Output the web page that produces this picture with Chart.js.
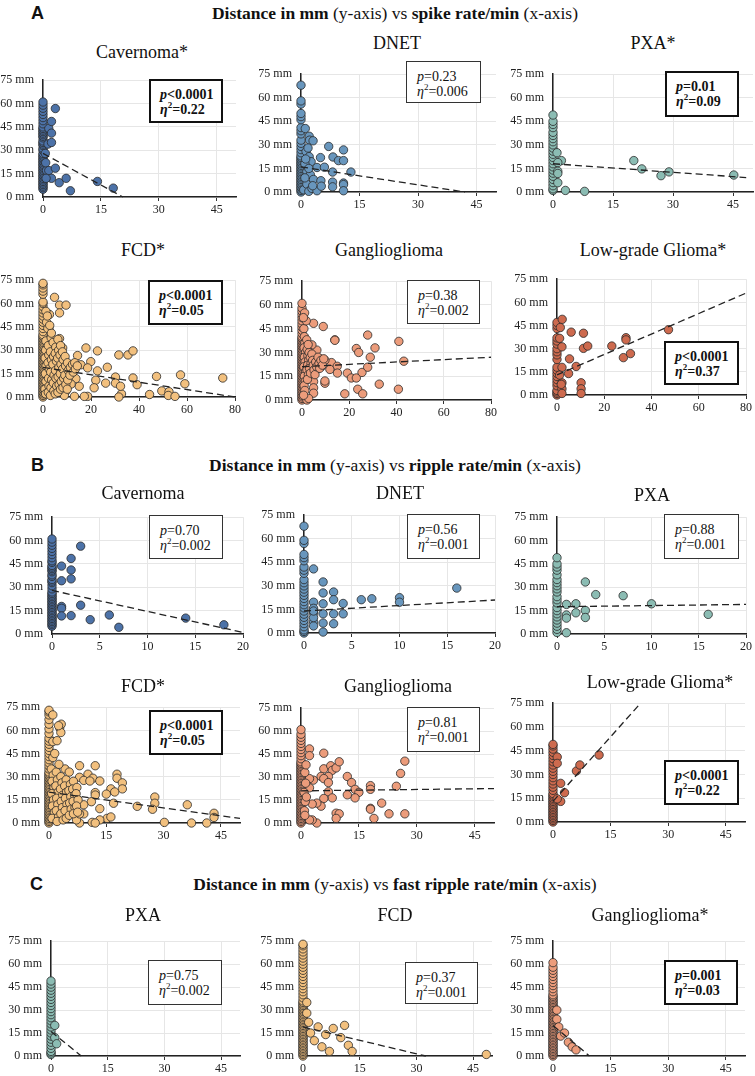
<!DOCTYPE html>
<html><head><meta charset="utf-8">
<script src="https://cdn.jsdelivr.net/npm/chart.js@4.4.1/dist/chart.umd.min.js"></script>
<style>
body{margin:0;background:#fff;width:755px;height:1076px;position:relative;overflow:hidden;font-family:"Liberation Serif",serif;color:#111;}
canvas{position:absolute;}
.sec{position:absolute;font-family:"Liberation Sans",Arial,sans-serif;font-weight:bold;font-size:18px;transform:translateY(-50%);}
.head{position:absolute;left:0;width:790px;text-align:center;font-size:17.5px;transform:translateY(-50%);}
.ttl{position:absolute;font-size:18px;transform:translate(-50%,-50%);white-space:nowrap;}
.box{position:absolute;border:1px solid #333;box-sizing:border-box;font-size:14px;line-height:15px;padding:7px 0 0 10px;white-space:nowrap;background:#fff;}
.box.sig{border:2px solid #111;font-weight:bold;padding:6px 0 0 9px;}
.box sup{font-size:9px;line-height:0;}
</style></head><body>
<script>
// ---------- data (x = rate/min, y = distance in mm) ----------
const yTicks = [0, 15, 30, 45, 60, 75];
const xTicks50 = [0, 15, 30, 45];
const xTicks80 = [0, 20, 40, 60, 80];
const xTicks20 = [0, 5, 10, 15, 20];

// A: spike rate
const cavSpikeZero = [5,6,7,8,9,10,11,12,13,14,15,16,17,18,19,20,21,22,23,24,25,26,27,28,30,31,33,34,35,36,38,39,40,41,42,43,44,45,47,49,51,53,55,57,59,61];
const cavSpike = [[0.9,17],[1.3,34],[1.5,44],[1.5,17],[2.2,48.5],[2.2,41],[2.2,35],[2.2,12],[3.2,56.8],[3.2,18.5],[4.2,9.2],[6,12],[7.1,4],[14.1,10],[18.2,5.7],[0.8,12],[0.7,22],[0.6,28]];
const cavSpikeFit = [[0,28],[20.7,0]];

const dnetSpikeZero = [0,1,2,3,4,5,6,7,8,9,10,11,12,13,14,15,16,17,18,19,20,21,22,23,25,27,29,31,33,37,39,41,46,48,50,56,58,68];
const dnetSpike = [[0.7,1.4],[1.1,40.4],[1.3,25.8],[1.5,13],[1.5,5],[2,0.4],[2.1,35.5],[2.1,22.5],[2.2,33],[2.4,11],[2.6,19.3],[2.8,2.3],[3.1,32.6],[3.2,8],[4.1,15.6],[4.1,0.8],[5,21.9],[5.1,7.2],[5.2,3.7],[6,15.8],[7.1,29],[8.1,12.7],[8.1,6.3],[8.1,3.3],[8.2,22.3],[9.6,20],[10.9,26.8],[10.9,20],[10.9,5.7],[10.9,4.7],[10.9,0.8],[12.8,12.7],[1,18],[1,9],[2,15],[1.8,28],[3,4],[1.2,21]];
const dnetSpikeFit = [[0,16],[42,0]];

const pxaSpikeZero = [1,2,4,6,8,10,12,14,16,18,20,22,24,26,28,30,32,34,36,38,41,43,45,49];
const pxaSpike = [[1,25],[2.1,20],[1.2,18.7],[1.2,13.2],[1.2,11.8],[1.2,5.9],[3.1,1],[7.9,0.4],[20.2,20],[22.2,14.7],[27,10.4],[29,12.8],[45.2,10.8]];
const pxaSpikeFit = [[0,18],[48.3,9.2]];

const fcdSpikeZero = [0,1,2,3,4,5,6,7,8,9,10,11,12,13,14,15,16,17,18,19,20,21,22,23,24,25,26,27,28,29,30,31,32,33,34,35,36,37,38,39,40,42,44,46,48,50,52,54,56,58,60,61,66,68,70,72,73];
const fcdSpike = [[4.8,64],[6.9,59],[9.6,59],[6.9,54],[2.7,53],[2.5,44],[6.9,37.5],[8.2,31.5],[17.9,31.5],[22.7,29.6],[14.4,26.6],[19.9,22.7],[15.8,20.7],[18.6,18.7],[26.8,19.1],[22.7,16.8],[31.6,27],[35.4,27],[37.5,29.6],[30.2,12.8],[37.5,12.2],[47.3,13.2],[57.3,14.2],[74.9,12.2],[59.1,8.5],[39.2,7.9],[49.5,3.9],[52.5,3.4],[52.2,1],[55,0.4],[44.4,1.6],[32.7,2],[31.6,0],[18.6,0.4],[17.2,0.4],[26.1,8.9],[22,10.8],[21.3,5.9],[15.1,6.9],[13.1,0.4],[30.2,8.9],[32.3,6.9],[11,12.8],[13.7,11.8],[11.7,8.3],[9.6,3.9],[8.9,1],
  [1.2,36],[1.1,30],[0.9,25],[1.3,20],[1,15],[1.2,10],[0.8,5],[1.1,2],[2.2,33],[2.4,27],[2.1,22],[2.6,18],[2.3,12],[2.5,7],[2.2,3],[3.4,38],[3.1,29],[3.5,24],[3.2,16],[3.6,11],[3.3,6],[3.1,1],[4.2,35],[4.4,26],[4.1,21],[4.6,14],[4.3,9],[4.5,4],[5.3,32],[5.1,28],[5.6,23],[5.2,17],[5.4,12],[5.7,7],[5.1,2],[6.2,37],[6.5,30],[6.1,25],[6.6,19],[6.3,13],[6.7,8],[6.2,3],[7.3,33],[7.1,27],[7.5,21],[7.2,15],[7.6,10],[7.3,5],[8.1,29],[8.4,24],[8.2,18],[8.6,12],[8.3,6],[9.2,26],[9.4,20],[9.1,14],[9.5,8],[10.2,22],[10.5,17],[10.3,11],[10.1,5],[11.4,19],[11.2,14],[12.3,21],[12.6,16],[13.2,22],[13.5,18],[14.3,20],[1.5,48],[2,44],[1.2,55],[1.8,52],[3.5,41],[2.8,46]];
const fcdSpikeFit = [[0,19],[80,0]];

const gangSpikeZero = [0,1,2,3,4,5,6,7,8,9,10,11,12,13,14,15,16,17,18,19,20,21,22,23,24,25,26,27,28,29,30,31,32,33,34,35,36,37,38,39,40,42,44,46,48,50,52,54,56,58,61];
const gangSpike = [[4.9,48.4],[9,46.4],[13.9,38],[13.9,37.7],[27.8,41],[41,37],[23,32.5],[24,30],[30.9,32.9],[28.9,27],[43.1,24.5],[12.5,23.6],[14.9,21.3],[11.8,19.3],[15,17],[19.2,17],[20.9,13.9],[23,13.9],[25.4,17.4],[27.8,20.7],[32.7,10],[40.8,6.8],[18.1,3.9],[23.6,6.8],[25.7,3.9],[7.6,26.1],[9.7,25.1],[6.3,31.5],[4.2,34.8],[4.9,11.6],[4.9,7.7],[4.9,4.3],[9.7,10.6],[9.7,12],[8.3,21.3],[6.3,19.3],[2.1,0],[2.8,1],
  [0.8,45],[1,40],[1.2,36],[0.9,33],[1.5,30],[1,27],[1.3,24],[0.8,21],[1.6,18],[1,15],[1.4,12],[0.9,9],[1.2,6],[0.7,3],[2,38],[2.2,32],[2.5,28],[2.8,25],[2.4,22],[2.1,19],[2.7,16],[2.3,13],[3,30],[3.5,27],[3.8,23],[3.2,20],[3.6,17],[4.2,29],[4.5,25],[4.8,22],[5.1,19],[5.5,16],[5.8,24],[6.2,21],[6.8,27],[7.2,23],[7.5,20],[8,25],[8.6,22],[9.2,26],[1.8,50],[1.1,55],[0.6,52],[2.6,35]];
const gangSpikeFit = [[0,21],[80,27]];

const lggSpikeZero = [0,1,2,3,6,8,10,12,14,16,18,23,26,28,30,33,35,37,43,45,47];
const lggSpike = [[2.2,49],[1.4,43.7],[2.1,31.2],[2.1,17.9],[2.1,7.9],[2.1,4],[2.1,1],[6,40.7],[11.2,40],[11.2,30.2],[13,31.7],[5.3,23.4],[4.9,13.9],[8.1,18.5],[10.2,7.9],[10.2,4],[10.2,1],[23.2,31.7],[29.2,37.1],[29.2,35.7],[28.1,24.2],[31.1,26.8],[47.2,42.3],[1.1,36.7],[1.1,12.9],[1.8,6.9]];
const lggSpikeFit = [[0,13],[80,66]];

// B: ripple rate
const cavRippleZero = [5,6,7,8,9,10,11,12,13,14,15,16,17,18,19,20,21,22,23,24,25,26,27,29,31,33,34,35,37,38,40,41,42,43,44,46,47,49,51,53,55,57,59,61];
const cavRipple = [[3,56.4],[2,48.5],[1,43.6],[2,41.1],[2,35.4],[1,34.2],[1,17.7],[1,16.5],[3,18.5],[1,11.6],[2,11.8],[4,9.2],[6,12.2],[7,4.3],[14,10.2],[18,5.9]];
const cavRippleFit = [[0,28],[20,1]];

const dnetRippleZero = [0,1,2,4,6,8,10,12,14,16,18,20,22,24,26,28,30,32,34,38,40,42,46,48,50,57,59,68];
const dnetRipple = [[1,40.8],[2,32.5],[2,25.5],[3.1,26.1],[3.1,21.2],[2,18.6],[4.1,18.8],[1,19.6],[1,15.7],[1,12.7],[1,7.1],[1,4.5],[2,12.2],[2,6.3],[2,0.6],[3.1,12.2],[3.1,5.9],[4.1,12.2],[6,21.2],[7.1,21.8],[10,22.5],[10,19.6],[16,28.6],[1,9.8],[1,14]];
const dnetRippleFit = [[0,14],[20,21]];

const pxaRippleZero = [1,3,5,7,9,11,13,15,17,20,22,24,27,29,31,33,35,38,41,43,45,49];
const pxaRipple = [[1,19],[1,12.2],[1,10.2],[1,0.8],[2,19.4],[2,13.6],[3,33.4],[3,15.1],[3,10.6],[4.1,25.3],[7,24.6],[10,19.4],[16,12.6]];
const pxaRippleFit = [[0,17.5],[20,19]];

const fcdRippleZero = [0,1,2,3,4,5,6,7,8,9,10,11,12,13,14,15,16,17,18,19,20,21,22,23,24,25,26,27,28,29,30,31,32,33,35,37,39,41,43,45,47,49,51,53,55,58,61,64,67,70,72,73];
const fcdRipple = [[1,70],[2.8,61.6],[3.1,58.6],[1,52.7],[2.1,53.3],[1,42.4],[8,37.1],[12.1,37.1],[8,29.6],[10.2,31.6],[11.5,29],[13.3,27.2],[9.1,27.6],[10.7,27.2],[17.8,31.6],[17.8,29],[19.2,26],[19.2,22.1],[16.2,22.1],[17.2,20.1],[12.1,19.7],[12.1,18.1],[15,18.7],[16.9,12.8],[11.1,13.8],[9.1,11.8],[9.1,5.9],[13.3,9.3],[27.7,16.8],[27.7,12.8],[27.1,8.9],[23.1,10.8],[36.2,11.8],[43.2,6.3],[43.2,3.6],[30.2,0.4],[37.3,0],[41.3,0],[15.2,3],[16.2,3.9],[13.3,2],[11.3,0.4],[12.1,0],[8,0],[7.2,2],[8,5.9],
  [0.6,35],[1.1,31],[0.8,27],[1.3,23],[0.7,19],[1.2,15],[0.9,11],[1.4,7],[0.8,3],[1.9,33],[2.2,28],[1.8,24],[2.4,20],[2,16],[2.3,12],[1.9,8],[2.5,4],[2.1,1],[3.1,30],[3.4,26],[3,22],[3.6,18],[3.2,14],[3.5,10],[3.1,6],[3.7,2],[4.2,35],[4.5,28],[4.1,24],[4.6,20],[4.3,16],[4.7,12],[4.2,8],[4.5,3],[5.3,33],[5.6,25],[5.2,21],[5.7,17],[5.4,13],[5.8,9],[5.3,5],[6.4,27],[6.2,22],[6.7,18],[6.3,14],[6.8,10],[6.4,6],[7.3,23],[7.1,19],[7.6,15],[7.2,11],[7.5,7],[2.6,38],[1.5,45],[3.2,64],[2.5,63]];
const fcdRippleFit = [[0,20],[50,3]];

const gangRippleZero = [0,1,2,3,4,5,6,7,8,9,10,11,12,13,14,15,16,17,18,19,20,21,22,23,24,25,26,27,28,29,30,31,32,33,34,35,36,37,38,39,40,42,44,46,48,50,52,54,56,58,61];
const gangRipple = [[2.2,48.4],[2.2,44],[5.9,45.6],[5.9,35.4],[7.7,37.4],[8.1,34.4],[9.1,36],[9.9,40],[7.1,30.4],[5.2,30.4],[5.9,29],[7.1,26.4],[3.2,28],[2.2,23],[2.2,29],[7.1,20.4],[8.1,16.4],[5.9,16],[5.2,11],[4.1,13],[2.9,12.4],[9.1,6.4],[9.9,6],[9.1,3],[4.1,0],[2.9,2],[2.2,2],[12,30.4],[13.1,26.4],[14,22],[15,20],[14,16.4],[12,18.4],[18,24.4],[18,22],[18,9.6],[18,9],[18.9,3],[20.9,13],[22.8,6],[24.7,24],[25.8,32.4],[26.9,40.4],[26.9,6],
  [1,33],[1.2,26],[0.8,20],[1.1,14],[0.9,8],[1.3,38],[1,5],[1.4,17]];
const gangRippleFit = [[0,21],[50,22.5]];

const lggRippleZero = [0,1,2,3,4,5,6,7,8,9,10,11,12,13,14,15,16,17,18,20,22,24,26,28,30,32,34,36,38,40,42,44,46,48,49];
const lggRipple = [[1.1,41],[1.1,37],[2,24.4],[2,13],[3,18.5],[6.1,32.2],[7,36],[12,42.3],[1.1,14.6]];
const lggRippleFit = [[0,13],[22.8,75]];

// C: fast ripple rate
const pxaFastZero = [1,2,3,5,7,9,11,13,15,17,19,21,23,25,27,29,31,33,35,37,39,41,43,45,47,49];
const pxaFast = [[1,20],[1,12],[1.5,8]];
const pxaFastFit = [[0,16],[8,0]];

const fcdFastZero = [0,1,2,3,4,5,6,7,8,9,10,11,12,13,14,15,16,17,18,19,20,21,22,23,24,25,26,27,28,29,30,31,32,33,34,35,36,38,40,42,44,46,48,50,52,54,56,58,60,62,64,66,68,70,72,73];
const fcdFast = [[1,35],[1,28],[1.5,22],[2,15],[3,10],[4,19],[5,6],[6,14],[7,3],[8,18],[10,12],[11,20],[12,7],[13,3],[48.5,1]];
const fcdFastFit = [[0,19],[32.5,0]];

const gangFastZero = [0,1,2,3,4,5,6,7,8,9,10,11,12,13,14,15,16,17,18,19,20,21,22,23,24,25,26,27,28,29,30,31,32,33,34,35,36,37,38,39,40,42,44,46,48,50,52,54,56,58,61];
const gangFast = [[1,30],[1,24],[1.5,19],[2,13],[3,15],[4,9],[5,6],[6,4]];
const gangFastFit = [[0,20],[9.5,0]];

// colours per tumour type
const cCav = '#4c72a8', cDnet = '#6896bd', cPxa = '#8bbcb3', cFcd = '#f2c07e', cGang = '#ec9c7b', cLgg = '#cd6a4e';

// ---------- layout ----------
const YW = 46, PT = 6, PR = 6, XH = 22;

function txt(cls, html, x, y, w, h) {
  const d = document.createElement('div');
  d.className = cls;
  d.innerHTML = html;
  d.style.left = x + 'px'; d.style.top = y + 'px';
  if (w) { d.style.width = w + 'px'; d.style.height = h + 'px'; }
  document.body.appendChild(d);
}

function stats(box, p, eta, sig) {
  txt('box' + (sig ? ' sig' : ''), '<i>p</i>' + p + '<br><i>η</i><sup>2</sup>=' + eta, box[0], box[1], box[2] - box[0], box[3] - box[1]);
}

function panel(g, title, tPos, zero, pts, fit, color, xMax, xt) {
  // g = [axisX, y75, xEnd, y0]
  const cv = document.createElement('canvas');
  const w = g[2] - g[0] + YW + PR, h = g[3] - g[1] + PT + XH;
  cv.width = w; cv.height = h;
  cv.style.left = (g[0] - YW) + 'px'; cv.style.top = (g[1] - PT) + 'px';
  document.body.appendChild(cv);
  txt('ttl', title, tPos[0], tPos[1]);
  const all = zero.map(y => ({x: 0, y: y})).concat(pts.map(p => ({x: p[0], y: p[1]})));
  const font = {family: 'Liberation Serif', size: 12};
  new Chart(cv, {
    type: 'scatter',
    data: {datasets: [
      {type: 'line', data: fit.map(p => ({x: p[0], y: p[1]})), borderColor: '#222', borderWidth: 1.3,
       borderDash: [7, 4], pointRadius: 0, fill: false, order: 0, clip: false},
      {data: all, backgroundColor: color, borderColor: '#2a2a2a', borderWidth: 0.8, pointRadius: 4.2, order: 1, clip: false}
    ]},
    options: {
      animation: false, responsive: false, events: [],
      layout: {padding: {top: PT, right: PR, left: 0, bottom: 0}},
      plugins: {legend: {display: false}, tooltip: {enabled: false}},
      scales: {
        x: {type: 'linear', min: 0, max: xMax,
            afterBuildTicks: s => { s.ticks = xt.map(v => ({value: v})); },
            afterFit: s => { s.height = XH; },
            grid: {color: '#e6e6e6', tickColor: '#333', tickLength: 4},
            border: {color: '#222', width: 1.5},
            ticks: {font: font, color: '#222', padding: 2, maxRotation: 0}},
        y: {min: 0, max: 75,
            afterBuildTicks: s => { s.ticks = yTicks.map(v => ({value: v})); },
            afterFit: s => { s.width = YW; },
            grid: {color: '#e6e6e6', drawTicks: false},
            border: {color: '#222', width: 1.5},
            ticks: {font: font, color: '#222', padding: 9, callback: v => v + ' mm'}}
      }
    }
  });
}

// headers
txt('sec', 'A', 31, 13);
txt('head', '<b>Distance in mm</b> (y-axis) vs <b>spike rate/min</b> (x-axis)', 0, 13);
txt('sec', 'B', 31, 465);
txt('head', '<b>Distance in mm</b> (y-axis) vs <b>ripple rate/min</b> (x-axis)', 0, 465);
txt('sec', 'C', 30, 884);
txt('head', '<b>Distance in mm</b> (y-axis) vs <b>fast ripple rate/min</b> (x-axis)', 0, 884);

// A
panel([43, 70, 236, 197], 'Cavernoma*', [142, 52], cavSpikeZero, cavSpike, cavSpikeFit, cCav, 50, xTicks50);
stats([149, 79, 223, 123], '&lt;0.0001', '0.22', true);
panel([301, 64, 496, 192], 'DNET', [397, 43], dnetSpikeZero, dnetSpike, dnetSpikeFit, cDnet, 50, xTicks50);
stats([406, 61, 481, 103], '=0.23', '0.006', false);
panel([553, 64, 753, 192], 'PXA*', [653, 43], pxaSpikeZero, pxaSpike, pxaSpikeFit, cPxa, 50, xTicks50);
stats([665, 71, 739, 117], '=0.01', '0.09', true);
panel([43, 270, 237, 397], 'FCD*', [143, 250], fcdSpikeZero, fcdSpike, fcdSpikeFit, cFcd, 80, xTicks80);
stats([148, 280, 223, 325], '&lt;0.0001', '0.05', true);
panel([302, 271, 493, 400], 'Ganglioglioma', [389, 250], gangSpikeZero, gangSpike, gangSpikeFit, cGang, 80, xTicks80);
stats([407, 280, 480, 324], '=0.38', '0.002', false);
panel([557, 269, 748, 395], 'Low-grade Glioma*', [653, 250], lggSpikeZero, lggSpike, lggSpikeFit, cLgg, 80, xTicks80);
stats([664, 341, 739, 385], '&lt;0.0001', '0.37', true);

// B
panel([52, 507, 245, 634], 'Cavernoma', [143, 493], cavRippleZero, cavRipple, cavRippleFit, cCav, 20, xTicks20);
stats([149, 515, 223, 559], '=0.70', '0.002', false);
panel([304, 505, 497, 633], 'DNET', [400, 493], dnetRippleZero, dnetRipple, dnetRippleFit, cDnet, 20, xTicks20);
stats([407, 514, 480, 559], '=0.56', '0.001', false);
panel([557, 507, 748, 634], 'PXA', [652, 495], pxaRippleZero, pxaRipple, pxaRippleFit, cPxa, 20, xTicks20);
stats([664, 514, 739, 559], '=0.88', '0.001', false);
panel([49, 697, 240, 823], 'FCD*', [143, 686], fcdRippleZero, fcdRipple, fcdRippleFit, cFcd, 50, xTicks50);
stats([149, 710, 223, 755], '&lt;0.0001', '0.05', true);
panel([301, 698, 494, 823], 'Ganglioglioma', [398, 686], gangRippleZero, gangRipple, gangRippleFit, cGang, 50, xTicks50);
stats([407, 707, 480, 752], '=0.81', '0.001', false);
panel([553, 693, 745, 822], 'Low-grade Glioma*', [660, 682], lggRippleZero, lggRipple, lggRippleFit, cLgg, 50, xTicks50);
stats([664, 760, 739, 805], '&lt;0.0001', '0.22', true);

// C
panel([51, 931, 240, 1056], 'PXA', [143, 915], pxaFastZero, pxaFast, pxaFastFit, cPxa, 50, xTicks50);
stats([148, 960, 222, 1005], '=0.75', '0.002', false);
panel([303, 931, 492, 1056], 'FCD', [395, 915], fcdFastZero, fcdFast, fcdFastFit, cFcd, 50, xTicks50);
stats([405, 962, 478, 1004], '=0.37', '0.001', false);
panel([553, 931, 745, 1056], 'Ganglioglioma*', [650, 915], gangFastZero, gangFast, gangFastFit, cGang, 50, xTicks50);
stats([664, 960, 738, 1005], '=0.001', '0.03', true);
</script>
</body></html>
